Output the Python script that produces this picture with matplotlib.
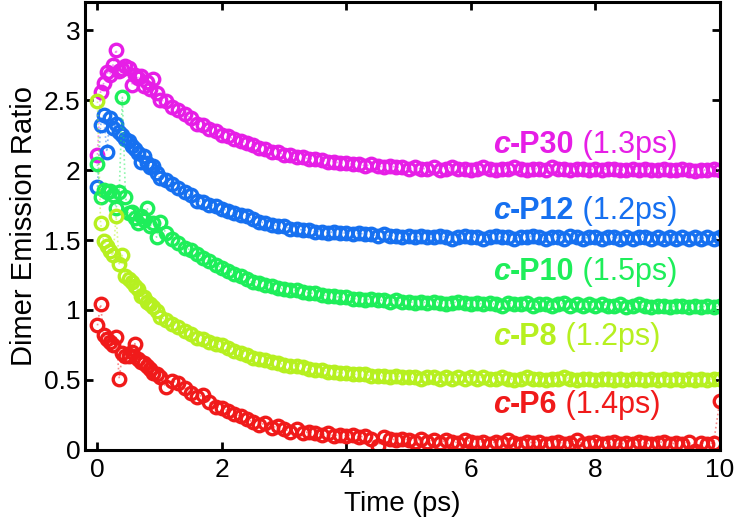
import numpy as np
import matplotlib.pyplot as plt

plt.rcParams['font.family'] = ['Liberation Sans', 'DejaVu Sans']

# time grid: 0.05 ps steps below 1 ps, 0.1 ps steps after
t_early = np.round(np.arange(0, 1.0, 0.05), 2)
t_late = np.round(np.arange(1.0, 10.001, 0.1), 2)
t = np.concatenate([t_early, t_late])

tail_p30 = [2.02, 2.01, 2.01, 2.02, 2.00, 2.01, 2.02, 2.01, 2.01, 2.00,
            2.01, 2.02, 2.01, 2.00, 2.01, 2.01, 2.02, 2.01, 2.00, 2.01,
            2.01, 2.00, 2.02, 2.01, 2.01, 2.00, 2.01, 2.01, 2.00, 2.01,
            2.00, 2.01, 2.01, 2.00, 2.00, 2.01, 2.00, 2.01, 2.00, 2.00,
            2.01, 2.00, 2.00, 2.01, 2.00, 1.99, 2.00, 2.00, 2.01, 2.00]
p30 = [2.11, 2.56, 2.62, 2.70, 2.68, 2.75, 2.86, 2.71, 2.72, 2.74,
       2.73, 2.61, 2.68, 2.66, 2.67, 2.60, 2.63, 2.58, 2.65, 2.55,
       2.50, 2.49, 2.45, 2.43, 2.40, 2.37, 2.33, 2.32, 2.29, 2.28,
       2.25, 2.24, 2.22, 2.21, 2.19, 2.18, 2.16, 2.15, 2.13, 2.13,
       2.11, 2.11, 2.09, 2.09, 2.08, 2.08, 2.07, 2.06, 2.06, 2.05,
       2.05, 2.04, 2.04, 2.03, 2.04, 2.03, 2.02, 2.03, 2.02, 2.02,
       2.01] + tail_p30

tail_p12 = [1.52, 1.53, 1.52, 1.52, 1.53, 1.52, 1.51, 1.52, 1.53, 1.52,
            1.52, 1.51, 1.52, 1.53, 1.52, 1.52, 1.51, 1.52, 1.52, 1.53,
            1.52, 1.51, 1.52, 1.52, 1.51, 1.53, 1.52, 1.51, 1.52, 1.52,
            1.51, 1.52, 1.52, 1.51, 1.52, 1.51, 1.52, 1.52, 1.51, 1.52,
            1.51, 1.52, 1.51, 1.52, 1.51, 1.52, 1.51, 1.52, 1.51, 1.52]
p12 = [1.88, 2.32, 2.39, 2.13, 2.37, 2.30, 2.33, 2.27, 2.25, 2.22,
       2.21, 2.17, 2.15, 2.12, 2.06, 2.10, 2.05, 2.02, 2.03, 1.98,
       1.94, 1.93, 1.90, 1.87, 1.84, 1.82, 1.78, 1.77, 1.75, 1.74,
       1.72, 1.71, 1.69, 1.68, 1.67, 1.65, 1.63, 1.62, 1.61, 1.60,
       1.60, 1.58, 1.58, 1.57, 1.57, 1.56, 1.56, 1.55, 1.56, 1.55,
       1.55, 1.54, 1.55, 1.54, 1.54, 1.53, 1.54, 1.53, 1.53, 1.52,
       1.53] + tail_p12

tail_p10 = [1.05, 1.06, 1.05, 1.06, 1.05, 1.04, 1.05, 1.06, 1.05, 1.04,
            1.05, 1.04, 1.05, 1.04, 1.03, 1.05, 1.04, 1.04, 1.05, 1.03,
            1.04, 1.04, 1.03, 1.04, 1.05, 1.03, 1.04, 1.03, 1.04, 1.03,
            1.04, 1.03, 1.03, 1.04, 1.02, 1.03, 1.04, 1.03, 1.02, 1.03,
            1.03, 1.02, 1.03, 1.03, 1.02, 1.03, 1.02, 1.03, 1.02, 1.03]
p10 = [2.04, 1.81, 1.86, 1.84, 1.85, 1.82, 1.73, 1.84, 2.52, 1.81,
       1.69, 1.70, 1.66, 1.62, 1.67, 1.64, 1.73, 1.60, 1.62, 1.52,
       1.63, 1.55, 1.51, 1.48, 1.44, 1.43, 1.40, 1.37, 1.35, 1.32,
       1.30, 1.28, 1.26, 1.24, 1.22, 1.20, 1.19, 1.18, 1.17, 1.16,
       1.15, 1.14, 1.14, 1.13, 1.12, 1.12, 1.11, 1.10, 1.10, 1.09,
       1.09, 1.08, 1.08, 1.07, 1.08, 1.07, 1.07, 1.06, 1.07, 1.06,
       1.06] + tail_p10

tail_p8 = [0.52, 0.51, 0.52, 0.52, 0.51, 0.52, 0.51, 0.52, 0.51, 0.52,
           0.51, 0.52, 0.51, 0.51, 0.52, 0.51, 0.50, 0.51, 0.52, 0.51,
           0.51, 0.50, 0.51, 0.51, 0.52, 0.51, 0.50, 0.51, 0.51, 0.50,
           0.51, 0.51, 0.50, 0.51, 0.50, 0.51, 0.51, 0.50, 0.51, 0.50,
           0.51, 0.50, 0.51, 0.50, 0.51, 0.50, 0.51, 0.50, 0.51, 0.51]
p8 = [2.49, 1.62, 1.49, 1.46, 1.42, 1.39, 1.67, 1.33, 1.39, 1.24,
      1.22, 1.20, 1.17, 1.15, 1.10, 1.09, 1.06, 1.04, 1.02, 0.99,
      0.95, 0.93, 0.90, 0.88, 0.85, 0.83, 0.80, 0.79, 0.77, 0.76,
      0.75, 0.73, 0.71, 0.69, 0.68, 0.66, 0.65, 0.64, 0.63, 0.62,
      0.61, 0.60, 0.60, 0.59, 0.58, 0.57, 0.57, 0.56, 0.56, 0.55,
      0.55, 0.54, 0.54, 0.54, 0.53, 0.53, 0.53, 0.52, 0.53, 0.52,
      0.52] + tail_p8

tail_p6 = [0.06, 0.08, 0.06, 0.07, 0.05, 0.07, 0.06, 0.05, 0.07, 0.06,
           0.05, 0.06, 0.04, 0.06, 0.05, 0.07, 0.05, 0.04, 0.06, 0.05,
           0.06, 0.04, 0.05, 0.06, 0.04, 0.05, 0.07, 0.04, 0.05, 0.06,
           0.04, 0.05, 0.06, 0.04, 0.05, 0.04, 0.06, 0.05, 0.04, 0.05,
           0.06, 0.04, 0.05, 0.04, 0.06, -0.01, 0.05, 0.04, 0.05, 0.35]
p6 = [0.89, 1.04, 0.82, 0.79, 0.77, 0.75, 0.81, 0.51, 0.69, 0.67,
      0.67, 0.70, 0.76, 0.65, 0.63, 0.62, 0.60, 0.58, 0.55, 0.54,
      0.52, 0.45, 0.49, 0.48, 0.44, 0.41, 0.38, 0.39, 0.34, 0.31,
      0.30, 0.28, 0.26, 0.24, 0.22, 0.20, 0.18, 0.19, 0.16, 0.17,
      0.15, 0.13, 0.15, 0.12, 0.13, 0.12, 0.11, 0.12, 0.10, 0.11,
      0.10, 0.11, 0.09, 0.10, 0.08, 0.03, 0.09, 0.08, 0.07, 0.08,
      0.07] + tail_p6

series = [p30, p12, p10, p8, p6]
names = ["-P30", "-P12", "-P10", "-P8", "-P6"]
taus = [" (1.3ps)", " (1.2ps)", " (1.5ps)", " (1.2ps)", " (1.4ps)"]
label_y = [2.18, 1.71, 1.27, 0.81, 0.32]
colors = ["#E61EE6", "#1670F0", "#1EEE5A", "#B6F020", "#F01A1A"]

fig = plt.figure(figsize=(7.36, 5.25), dpi=100)
ax = fig.add_axes([0.1155, 0.143, 0.8625, 0.853])

for y, c in zip(series, colors):
    ax.plot(t, y, ':', color=c, lw=1.2, alpha=0.5)
    ax.plot(t, y, 'o', mfc='none', mec=c, ms=9, mew=2.4)

for nm, tau, ly, c in zip(names, taus, label_y, colors):
    t1 = ax.text(6.35, ly, "c", color=c, fontsize=22, fontweight='bold',
                 fontstyle='italic', va='center', ha='left')
    t2 = ax.annotate(nm, xy=(1, 0), xycoords=t1, color=c, fontsize=22,
                     fontweight='bold', va='bottom', ha='left')
    ax.annotate(tau, xy=(1, 0), xycoords=t2, color=c, fontsize=22,
                va='bottom', ha='left')

ax.set_xlim(-0.2, 10)
ax.set_ylim(0, 3.2)
ax.set_xticks([0, 2, 4, 6, 8, 10])
ax.set_yticks([0, 0.5, 1, 1.5, 2, 2.5, 3])
ax.set_yticklabels(["0", "0.5", "1", "1.5", "2", "2.5", "3"])
ax.tick_params(direction='in', length=6, width=2, labelsize=19,
               top=True, right=True)
ax.tick_params(axis='x', pad=6)
for s in ax.spines.values():
    s.set_linewidth(2.2)
ax.set_xlabel("Time (ps)", fontsize=20, labelpad=6)
ax.set_ylabel("Dimer Emission Ratio", fontsize=21, labelpad=4)

fig.savefig("out.png", dpi=100)
